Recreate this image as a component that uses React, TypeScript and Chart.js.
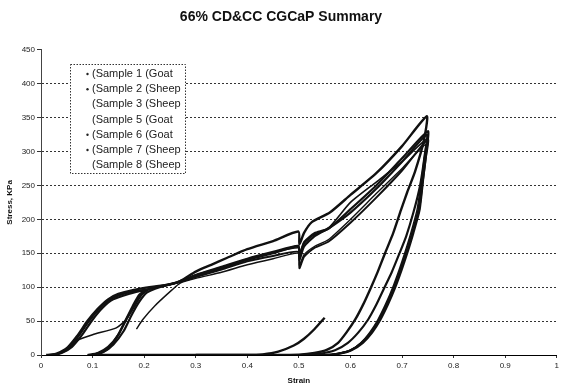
import React, { useEffect, useRef } from "react";
import { Chart, registerables } from "chart.js";

Chart.register(...registerables);

const TITLE = "66% CD&CC CGCaP Summary";
const X_TITLE = "Strain";
const Y_TITLE = "Stress, KPa";
const LABELS = [
  "(Sample 1 (Goat",
  "(Sample 2 (Sheep",
  "(Sample 3 (Sheep",
  "(Sample 5 (Goat",
  "(Sample 6 (Goat",
  "(Sample 7 (Sheep",
  "(Sample 8 (Sheep",
];
const LEGEND_MARKERS = [true, true, false, false, true, true, false];

// Sample 1 (Goat)
const s1Strain = [0.015, 0.03, 0.05, 0.07, 0.09, 0.11, 0.13, 0.15, 0.18, 0.21, 0.24, 0.27, 0.3, 0.33, 0.36, 0.4, 0.45, 0.499, 0.501, 0.51, 0.525, 0.56, 0.6, 0.65, 0.7, 0.748, 0.742, 0.725, 0.71, 0.698, 0.683, 0.667, 0.653, 0.64, 0.625, 0.609, 0.592, 0.576, 0.555, 0.53, 0.5, 0.45, 0.3];
const s1Stress = [0, 2, 10, 28, 50, 68, 82, 90, 96, 100, 103, 109, 123, 133, 143, 156, 168, 182, 163, 180, 196, 210, 236, 268, 308, 352, 315, 270, 240, 214, 180, 150, 123, 100, 75, 52, 33, 18, 8, 3, 0.5, 0, 0];

// Sample 2 (Sheep)
const s2Strain = [0.02, 0.04, 0.06, 0.08, 0.1, 0.12, 0.14, 0.17, 0.2, 0.23, 0.27, 0.3, 0.35, 0.4, 0.45, 0.499, 0.501, 0.51, 0.53, 0.56, 0.6, 0.65, 0.7, 0.748, 0.744, 0.735, 0.722, 0.708, 0.694, 0.68, 0.665, 0.65, 0.634, 0.615, 0.595, 0.57, 0.54, 0.5, 0.22];
const s2Stress = [0, 3, 12, 30, 52, 70, 82, 90, 96, 101, 108, 117, 128, 140, 150, 160, 140, 160, 175, 188, 210, 245, 285, 325, 295, 250, 210, 175, 148, 122, 98, 74, 52, 33, 18, 7, 2, 0, 0];

// Sample 3 (Sheep)
const s3Strain = [0.09, 0.11, 0.13, 0.15, 0.165, 0.18, 0.19, 0.2, 0.22, 0.25, 0.28, 0.3, 0.35, 0.4, 0.45, 0.499, 0.501, 0.51, 0.53, 0.557, 0.6, 0.65, 0.7, 0.75, 0.746, 0.74, 0.733, 0.72, 0.708, 0.697, 0.685, 0.671, 0.656, 0.64, 0.622, 0.6, 0.576, 0.55, 0.25];
const s3Stress = [0, 3, 12, 30, 52, 72, 85, 94, 100, 104, 110, 115, 126, 138, 146, 152, 128, 145, 158, 167, 195, 232, 272, 318, 290, 255, 214, 180, 150, 125, 100, 75, 52, 33, 18, 7, 2, 0, 0];

// Sample 5 (Goat)
const s5Strain = [0.1, 0.12, 0.14, 0.16, 0.175, 0.19, 0.205, 0.23, 0.26, 0.3, 0.35, 0.4, 0.45, 0.499, 0.501, 0.51, 0.53, 0.557, 0.6, 0.65, 0.7, 0.75, 0.747, 0.741, 0.734, 0.722, 0.71, 0.699, 0.687, 0.673, 0.658, 0.642, 0.624, 0.602, 0.578, 0.55, 0.3];
const s5Stress = [0, 4, 15, 35, 58, 78, 92, 100, 106, 118, 130, 142, 152, 161, 145, 165, 178, 186, 215, 250, 290, 330, 300, 260, 214, 180, 150, 125, 100, 75, 52, 33, 18, 7, 2, 0, 0];

// Sample 6 (Goat)
const s6Strain = [0.01, 0.03, 0.05, 0.07, 0.09, 0.11, 0.13, 0.15, 0.18, 0.2, 0.19, 0.18, 0.17, 0.16, 0.15, 0.14, 0.13, 0.115, 0.1, 0.2, 0.3, 0.4, 0.43, 0.46, 0.49, 0.51, 0.53, 0.55];
const s6Stress = [0, 1, 8, 25, 47, 66, 80, 88, 94, 95, 88, 75, 60, 45, 30, 18, 9, 3, 0, 0, 0, 0, 1, 5, 14, 24, 38, 55];

// Sample 7 (Sheep)
const s7Strain = [0.03, 0.05, 0.065, 0.1, 0.146, 0.165, 0.18, 0.195, 0.21, 0.24, 0.27, 0.3, 0.35, 0.4, 0.45, 0.499, 0.501, 0.51, 0.53, 0.557, 0.6, 0.65, 0.7, 0.748, 0.744, 0.738, 0.731, 0.719, 0.707, 0.696, 0.684, 0.67, 0.655, 0.639, 0.621, 0.6, 0.576, 0.55, 0.25];
const s7Stress = [0, 8, 20, 30, 40, 52, 70, 88, 97, 102, 108, 118, 129, 141, 151, 158, 148, 167, 180, 187, 225, 255, 285, 318, 292, 255, 214, 180, 150, 125, 100, 75, 52, 33, 18, 7, 2, 0, 0];

// Sample 8 (Sheep)
const s8Strain = [0.185, 0.197, 0.22, 0.254, 0.27, 0.3, 0.35, 0.4, 0.45, 0.499, 0.501, 0.51, 0.53, 0.557, 0.6, 0.65, 0.7, 0.745, 0.742, 0.736, 0.729, 0.717, 0.705, 0.694, 0.682, 0.668, 0.653, 0.637, 0.62, 0.6, 0.576, 0.55, 0.22];
const s8Stress = [38, 52, 72, 96, 106, 113, 122, 133, 142, 150, 132, 148, 160, 170, 200, 238, 275, 310, 285, 250, 214, 180, 150, 125, 100, 75, 52, 33, 18, 7, 2, 0, 0];

const STRAINS = [s1Strain, s2Strain, s3Strain, s5Strain, s6Strain, s7Strain, s8Strain];
const STRESSES = [s1Stress, s2Stress, s3Stress, s5Stress, s6Stress, s7Stress, s8Stress];
const WIDTHS = [2.4, 2.2, 2, 2.2, 2.4, 1.6, 1.4];

const FONT = "Arial, 'Liberation Sans', sans-serif";

const legendPlugin = {
  id: "boxLegend",
  afterDraw(chart: any) {
    const ctx = chart.ctx;
    const left = 70, top = 64, w = 115, h = 109;
    ctx.save();
    ctx.fillStyle = "#fff";
    ctx.fillRect(left, top, w, h);
    ctx.setLineDash([1.5, 1.5]);
    ctx.strokeStyle = "#333";
    ctx.lineWidth = 1;
    ctx.strokeRect(left + 0.5, top + 0.5, w, h);
    ctx.setLineDash([]);
    ctx.font = "11px " + FONT;
    ctx.textBaseline = "middle";
    ctx.textAlign = "left";
    LABELS.forEach((lab, i) => {
      const y = top + 10 + i * 15.2;
      if (LEGEND_MARKERS[i]) {
        ctx.fillStyle = "#222";
        ctx.beginPath();
        ctx.arc(87.5, y, 1.2, 0, Math.PI * 2);
        ctx.fill();
      }
      ctx.fillStyle = "#222";
      ctx.fillText(lab, 92, y);
    });
    ctx.restore();
  },
};

export default function App() {
  const ref = useRef<HTMLCanvasElement | null>(null);
  useEffect(() => {
    document.body.style.margin = "0";
    const datasets = LABELS.map((label, i) => ({
      label,
      data: STRAINS[i].map((x, j) => ({ x, y: STRESSES[i][j] })),
      showLine: true,
      borderColor: "#111",
      backgroundColor: "#111",
      borderWidth: WIDTHS[i],
      pointRadius: 0,
      tension: 0.2,
      fill: false,
    }));
    const chart = new Chart(ref.current as HTMLCanvasElement, {
      type: "scatter",
      data: { datasets },
      plugins: [legendPlugin],
      options: {
        animation: false,
        responsive: true,
        maintainAspectRatio: false,
        layout: { padding: { left: 0, right: 0, top: 0, bottom: 0 } },
        plugins: {
          legend: { display: false },
          tooltip: { enabled: false },
          title: {
            display: true,
            text: TITLE,
            color: "#111",
            font: { family: FONT, size: 14, weight: "bold" },
            padding: { top: 9, bottom: 24 },
          },
        },
        scales: {
          x: {
            type: "linear",
            min: 0,
            max: 1,
            ticks: {
              stepSize: 0.1,
              color: "#222",
              font: { family: FONT, size: 8 },
              padding: 3,
              maxRotation: 0,
              callback: (v: any) => {
                const n = Number(v);
                if (Math.abs(n) < 1e-9) return "0";
                if (Math.abs(n - 1) < 1e-9) return "1";
                return n.toFixed(1);
              },
            },
            grid: { drawOnChartArea: false, drawTicks: true, tickLength: 3, tickColor: "#333" },
            border: { display: true, color: "#000", width: 1 },
            title: {
              display: true,
              text: X_TITLE,
              color: "#111",
              font: { family: FONT, size: 8, weight: "bold" },
              padding: { top: 2, bottom: 4 },
            },
            afterFit: (scale: any) => {
              scale.height = 35;
            },
          },
          y: {
            type: "linear",
            min: 0,
            max: 450,
            ticks: {
              stepSize: 50,
              color: "#222",
              font: { family: FONT, size: 8 },
              padding: 2,
            },
            grid: {
              color: (c: any) => (c.tick && (c.tick.value === 0 || c.tick.value === 450) ? "rgba(0,0,0,0)" : "#333"),
              borderDash: [7, 5],
              lineWidth: 1,
              tickLength: 4,
              tickColor: "#333",
              tickBorderDash: [],
            } as any,
            border: { display: true, color: "#444", width: 1, dash: [2, 2] },
            title: {
              display: true,
              text: Y_TITLE,
              color: "#111",
              font: { family: FONT, size: 8, weight: "bold" },
              padding: { top: 5, bottom: 4 },
            },
            afterFit: (scale: any) => {
              scale.width = 41;
            },
          },
        },
      } as any,
    });
    return () => chart.destroy();
  }, []);
  return (
    <div style={{ width: 562, height: 390, position: "relative", background: "#fff" }}>
      <canvas ref={ref} />
    </div>
  );
}
